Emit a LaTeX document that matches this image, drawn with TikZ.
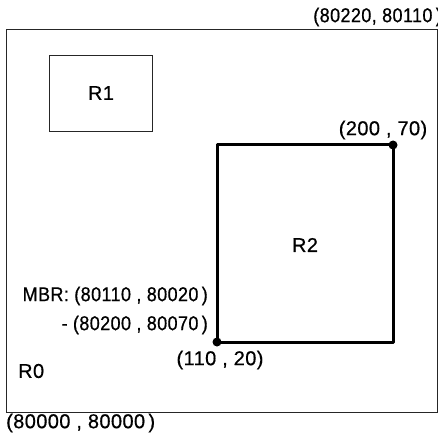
\documentclass[tikz,border=0pt]{standalone}
\usepackage{fontspec}
\setmainfont[LetterSpace=2,FakeBold=0.6]{Liberation Sans}
\newfontfamily\narrowfont[LetterSpace=2,FakeBold=0.6,FakeStretch=0.9]{Liberation Sans}
\begin{document}
\begin{tikzpicture}[x=1pt,y=-1pt,
  lbl/.style={inner sep=0pt,font=\fontsize{20}{22}\selectfont},
  nlbl/.style={inner sep=0pt,font=\narrowfont\fontsize{20}{22}\selectfont},
  thinbox/.style={draw=black!85,line width=1pt},
  mbr/.style={draw=black,line width=3pt,line join=round},
  corner/.style={circle,fill=black,inner sep=0pt,minimum size=9pt}]
\useasboundingbox (0,0) rectangle (438,435);
% outer region R0
\draw[thinbox] (6,30) rectangle (437,412);
% R1
\draw[thinbox] (49,56) rectangle (152,132);
\node[lbl] (r1) at (101,93) {R1};
% R2
\coordinate (ll) at (217,342);
\coordinate (ur) at (393,145);
\draw[mbr] (ll) rectangle (ur);
\node[corner] (dur) at (ur) {};
\node[corner] (dll) at (ll) {};
\node[lbl] (r2) at (305,245) {R2};
% labels
\node[nlbl,anchor=east] (tr) at (442,17) {(80220, 80110\,)};
\node[lbl] (c1) at (383,130) {(200 , 70)};
\node[nlbl,anchor=east] (m1) at (208,296) {MBR: (80110 , 80020\,)};
\node[nlbl,anchor=east] (m2) at (208,325) {- (80200 , 80070\,)};
\node[lbl] (c2) at (220,360) {(110 , 20)};
\node[lbl,anchor=west] (r0) at (18,371) {R0};
\node[lbl,anchor=west] (bl) at (6,423) {(80000 , 80000\,)};
\end{tikzpicture}
\end{document}
